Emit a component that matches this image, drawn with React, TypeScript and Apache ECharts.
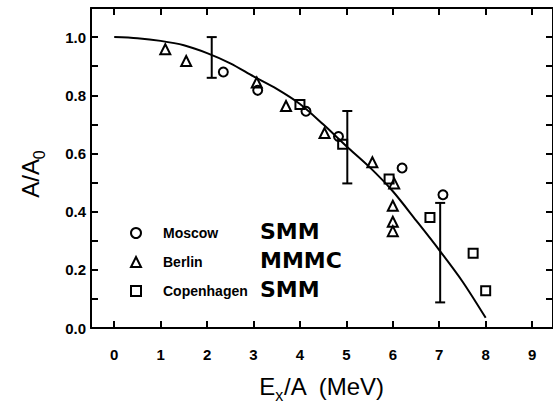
import React, { useEffect, useRef } from "react";
import * as echarts from "echarts";

const xTickValues = [0, 1, 2, 3, 4, 5, 6, 7, 8, 9];
const seriesNames = ["Moscow", "Berlin", "Copenhagen"];
const modelNames = ["SMM", "MMMC", "SMM"];

const moscow = [
  [2.35, 0.88], [3.09, 0.817], [4.13, 0.745], [4.83, 0.658], [6.2, 0.55], [7.08, 0.458],
];
const berlin = [
  [1.1, 0.958], [1.55, 0.918], [3.07, 0.844], [3.7, 0.763], [4.53, 0.67], [5.56, 0.57],
  [6.03, 0.497], [6.0, 0.42], [6.0, 0.365], [6.0, 0.333],
];
const copenhagen = [
  [4.0, 0.768], [4.92, 0.632], [5.92, 0.512], [6.8, 0.38], [7.73, 0.257], [8.0, 0.128],
];
const errorBars = [
  [2.1, 0.86, 1.0], [5.02, 0.497, 0.746], [7.02, 0.088, 0.43],
];
const theoryCurve = [
  [0, 1.0], [0.5, 0.996], [1, 0.987], [1.5, 0.972], [2, 0.945], [2.5, 0.91], [3, 0.865],
  [3.5, 0.822], [4, 0.77], [4.5, 0.7], [5, 0.625], [5.5, 0.553], [6, 0.47], [6.5, 0.37],
  [7, 0.268], [7.5, 0.16], [8, 0.035],
];

const FONT = "'Liberation Sans', Arial, sans-serif";

export default function App() {
  const ref = useRef<HTMLDivElement>(null);
  useEffect(() => {
    if (!ref.current) return;
    const chart = echarts.init(ref.current, null, { renderer: "svg" });
    const symStyle = { color: "rgba(255,255,255,0)", borderColor: "#000", borderWidth: 2, opacity: 1 };
    const tickStyle = { show: true, inside: true, length: 7, lineStyle: { color: "#000", width: 2 } };
    const axisLineStyle = { show: true, onZero: false, lineStyle: { color: "#000", width: 2 } };
    const subRich = { sub: { fontFamily: FONT, fontSize: 16, lineHeight: 15, verticalAlign: "bottom", fill: "#000", color: "#000" } };
    chart.setOption({
      animation: false,
      backgroundColor: "#fff",
      grid: { left: 91, top: 8, width: 463, height: 328 },
      legend: {
        orient: "vertical",
        left: 130,
        top: 226,
        padding: 0,
        itemWidth: 10,
        itemHeight: 10,
        itemGap: 15,
        data: seriesNames,
        textStyle: { fontFamily: FONT, fontSize: 14, fontWeight: "bold", color: "#000", padding: [0, 0, 0, 17] },
      },
      graphic: [
        ...modelNames.map((t, i) => ({
          type: "text",
          left: 260,
          top: 220 + i * 29,
          style: { text: t, fontFamily: "'DejaVu Sans', sans-serif", fontSize: 22, fontWeight: "bold", fill: "#000" },
        })),
        {
          type: "text",
          x: 30,
          y: 174,
          rotation: Math.PI / 2,
          style: {
            text: "A/A{sub|0}",
            fontFamily: FONT,
            fontSize: 24,
            fill: "#000",
            lineHeight: 34,
            align: "center",
            verticalAlign: "middle",
            rich: subRich,
          },
        },
      ],
      xAxis: [
        {
          type: "value",
          min: -0.5,
          max: 9.45,
          position: "bottom",
          splitLine: { show: false },
          axisLine: axisLineStyle,
          axisTick: { ...tickStyle, customValues: xTickValues },
          axisLabel: {
            customValues: xTickValues,
            margin: 19,
            fontFamily: FONT,
            fontSize: 15,
            fontWeight: "bold",
            color: "#000",
            formatter: (v: number) => String(v),
          },
          name: "E{sub|x}/A  (MeV)",
          nameLocation: "middle",
          nameGap: 41,
          nameTextStyle: { fontFamily: FONT, fontSize: 24, color: "#000", lineHeight: 34, rich: subRich },
        },
        {
          type: "value",
          min: -0.5,
          max: 9.45,
          position: "top",
          splitLine: { show: false },
          axisLine: axisLineStyle,
          axisTick: { ...tickStyle, customValues: xTickValues },
          axisLabel: { show: false },
        },
      ],
      yAxis: [
        {
          type: "value",
          min: 0,
          max: 1.1,
          interval: 0.1,
          position: "left",
          splitLine: { show: false },
          axisLine: axisLineStyle,
          axisTick: tickStyle,
          axisLabel: {
            margin: 5,
            fontFamily: FONT,
            fontSize: 15,
            fontWeight: "bold",
            color: "#000",
            formatter: (v: number) => (Math.round(v * 10) % 2 === 0 ? v.toFixed(1) : ""),
          },
        },
        {
          type: "value",
          min: 0,
          max: 1.1,
          interval: 0.1,
          position: "right",
          splitLine: { show: false },
          axisLine: axisLineStyle,
          axisTick: tickStyle,
          axisLabel: { show: false },
        },
      ],
      series: [
        {
          name: "theory",
          type: "line",
          data: theoryCurve,
          smooth: 0.3,
          showSymbol: false,
          lineStyle: { color: "#000", width: 2 },
          z: 2,
        },
        {
          name: "errors",
          type: "custom",
          data: errorBars,
          z: 2,
          renderItem: (params: any, api: any) => {
            const x = api.value(0);
            const lo = api.coord([x, api.value(1)]);
            const hi = api.coord([x, api.value(2)]);
            const w = 5;
            const st = { stroke: "#000", lineWidth: 2 };
            return {
              type: "group",
              children: [
                { type: "line", shape: { x1: lo[0], y1: lo[1], x2: hi[0], y2: hi[1] }, style: st },
                { type: "line", shape: { x1: lo[0] - w, y1: lo[1], x2: lo[0] + w, y2: lo[1] }, style: st },
                { type: "line", shape: { x1: hi[0] - w, y1: hi[1], x2: hi[0] + w, y2: hi[1] }, style: st },
              ],
            };
          },
        },
        { name: "Moscow", type: "scatter", data: moscow, symbol: "circle", symbolSize: 9, itemStyle: symStyle, z: 3 },
        { name: "Berlin", type: "scatter", data: berlin, symbol: "triangle", symbolSize: 10, itemStyle: symStyle, z: 3 },
        { name: "Copenhagen", type: "scatter", data: copenhagen, symbol: "rect", symbolSize: 9, itemStyle: symStyle, z: 3 },
      ],
    });
    return () => chart.dispose();
  }, []);
  return <div ref={ref} style={{ position: "fixed", left: 0, top: 0, width: 553, height: 408 }} />;
}
